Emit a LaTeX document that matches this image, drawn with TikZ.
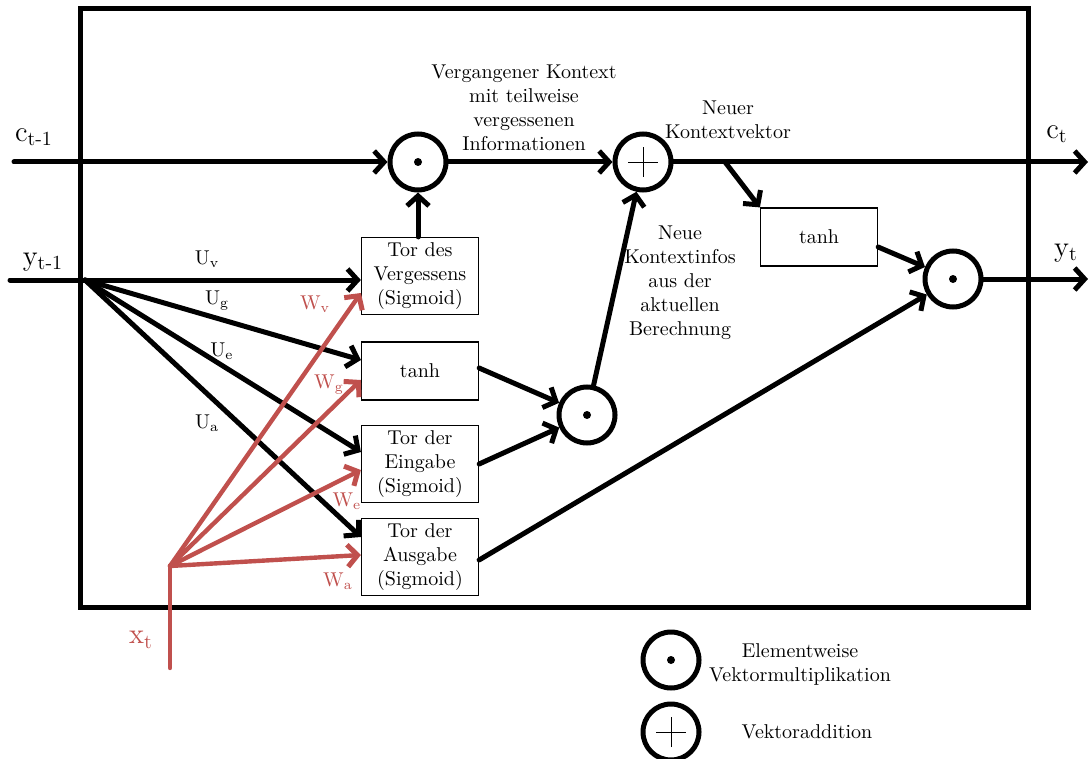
\documentclass[tikz,border=0pt]{standalone}
\usetikzlibrary{arrows.meta}
\definecolor{wred}{HTML}{C0504D}
\begin{document}
\begin{tikzpicture}[x=0.5pt,y=-0.5pt,
  flow/.style={line width=2.5pt,line cap=round,line join=round,-{Straight Barb[length=5pt,width=11pt,line width=2.5pt]}},
  rflow/.style={flow,draw=wred},
  gatebox/.style={draw,line width=0.6pt,minimum width=58.5pt,minimum height=38.5pt,inner sep=1pt,align=center},
  actbox/.style={gatebox,minimum height=29pt},
  opcircle/.style={circle,draw,line width=2.5pt,minimum size=28pt,inner sep=0pt},
  mult/.style={opcircle,path picture={\fill (path picture bounding box.center) circle (2pt);}},
  plus/.style={opcircle,path picture={
      \draw[line width=0.4pt] ([xshift=-7.5pt]path picture bounding box.center) -- ([xshift=7.5pt]path picture bounding box.center);
      \draw[line width=0.4pt] ([yshift=-7.5pt]path picture bounding box.center) -- ([yshift=7.5pt]path picture bounding box.center);}},
  lbl/.style={font=\Large,inner sep=1pt},
  wlbl/.style={text=wred,inner sep=1pt},
  note/.style={align=center,inner sep=1pt}]

\useasboundingbox (0,0) rectangle (1091,759);

% cell frame
\draw[line width=2.5pt] (80,9) rectangle (1028,607);

% operators
\node[mult] (m1) at (418,162) {};
\node[plus] (pl) at (643,162) {};
\node[mult] (m2) at (587,415) {};
\node[mult] (m3) at (953,279) {};

% gates
\node[gatebox] (gv) at (420,276) {Tor des\\Vergessens\\(Sigmoid)};
\node[actbox]  (gg) at (420,371) {tanh};
\node[gatebox] (ge) at (420,464) {Tor der\\Eingabe\\(Sigmoid)};
\node[gatebox] (ga) at (420,557) {Tor der\\Ausgabe\\(Sigmoid)};
\node[actbox]  (tb) at (819,237) {tanh};

% free ends
\coordinate (cin) at (14,162);
\coordinate (cout) at (1088,162);
\coordinate (yin) at (10,280);
\coordinate (yj) at (85,280);
\coordinate (yout) at (1088,279);
\coordinate (xin) at (170,668);
\coordinate (xj) at (170,566);
\coordinate (cb) at (725,162);

% context path
\draw[flow] (cin) -- (m1);
\draw[flow] (m1) -- (pl);
\draw[flow] (pl) -- (cout);
\draw[flow] (cb) -- (tb.north west);
\draw[flow] ([yshift=-5pt]tb.east) -- (m3);
\draw[flow] (m3) -- (yout);

% gate inputs from the previous output
\draw[line width=2.5pt,line cap=round] (yin) -- (yj);
\draw[flow] (yj) -- (yj -| gv.west);
\draw[flow] (yj) -- ([yshift=5.5pt]gg.west);
\draw[flow] (yj) -- ([yshift=6pt]ge.west);
\draw[flow] (yj) -- ([yshift=10pt]ga.west);

% gate inputs from the current input
\draw[line width=2.2pt,line cap=round,draw=wred] (xin) -- (xj);
\draw[rflow,line width=2.2pt] (xj) -- ([yshift=-8.5pt]gv.west);
\draw[rflow,line width=2.2pt] (xj) -- ([yshift=-4.5pt]gg.west);
\draw[rflow,line width=2.2pt] (xj) -- ([yshift=-3pt]ge.west);
\draw[rflow,line width=2.2pt] (xj) -- ([yshift=1pt]ga.west);

% gate outputs
\draw[flow] (m1 |- gv.north) -- (m1);
\draw[flow] ([yshift=1.5pt]gg.east) -- (m2);
\draw[flow] (ge.east) -- (m2);
\draw[flow] (m2) -- (pl);
\draw[flow] ([yshift=-1.5pt]ga.east) -- (m3);

% signal labels
\node[lbl] (lc0) at (34,137) {c\textsubscript{t-1}};
\node[lbl] (ly0) at (43,262) {y\textsubscript{t-1}};
\node[lbl] (lc1) at (1057,134) {c\textsubscript{t}};
\node[lbl] (ly1) at (1066,253) {y\textsubscript{t}};
\node[lbl,text=wred] (lx) at (141,640) {x\textsubscript{t}};

\node[inner sep=1pt] (uv) at (207,259) {U\textsubscript{v}};
\node[inner sep=1pt] (ug) at (217,301) {U\textsubscript{g}};
\node[inner sep=1pt] (ue) at (222,351) {U\textsubscript{e}};
\node[inner sep=1pt] (ua) at (207,423) {U\textsubscript{a}};

\node[wlbl] (wv) at (315,304) {W\textsubscript{v}};
\node[wlbl] (wg) at (329,385) {W\textsubscript{g}};
\node[wlbl] (we) at (347,501) {W\textsubscript{e}};
\node[wlbl] (wa) at (338,581) {W\textsubscript{a}};

% annotations
\node[note] (n1) at (524,108) {Vergangener Kontext\\mit teilweise\\vergessenen\\Informationen};
\node[note] (n2) at (728,120) {Neuer\\Kontextvektor};
\node[note] (n3) at (680,283) {Neue\\Kontextinfos\\aus der\\aktuellen\\Berechnung};

% legend
\node[mult] (lm) at (671,660) {};
\node[plus] (lp) at (671,732) {};
\node[note] (lmt) at (800,664) {Elementweise\\Vektormultiplikation};
\node[note] (lpt) at (807,732) {Vektoraddition};
\end{tikzpicture}
\end{document}
